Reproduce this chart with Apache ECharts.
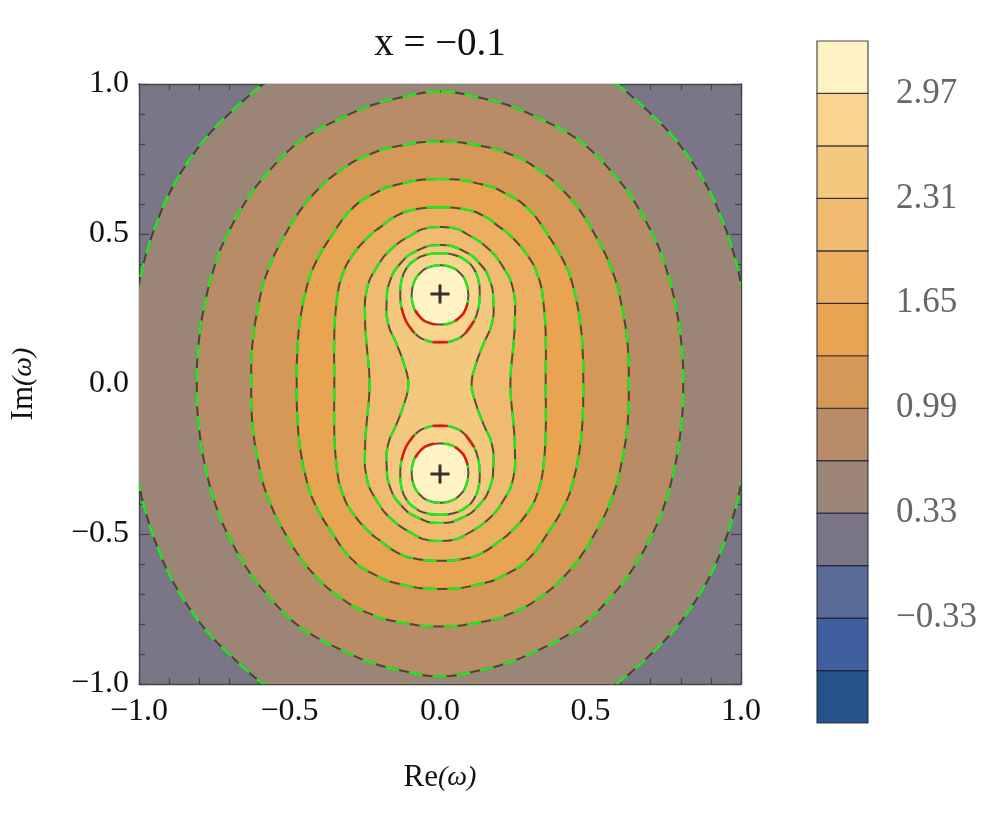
<!DOCTYPE html>
<html>
<head>
<meta charset="utf-8">
<title>x = −0.1</title>
<script src="https://cdn.jsdelivr.net/npm/echarts@6/dist/echarts.min.js"></script>
<style>
html, body { margin: 0; padding: 0; background: #fff; }
#chart { width: 997px; height: 816px; }
</style>
</head>
<body>
<div id="chart"></div>
<script>
// contour levels and colour bands (bottom to top)
const bandEdges = [-0.99, -0.66, -0.33, 0, 0.33, 0.66, 0.99, 1.32, 1.65, 1.98, 2.31, 2.64, 2.97, 3.30];
const bandColors = ['#24528a', '#3f5f9f', '#5b6b98', '#7a7688', '#9a8577', '#b78c66', '#d69856',
  '#e8a450', '#ecaf62', '#f0bb70', '#f5c87f', '#f9d48e', '#fff2c4'];
const barTicks = [-0.33, 0.33, 0.99, 1.65, 2.31, 2.97];
const axisTicks = [-1, -0.5, 0, 0.5, 1];

// contour traces, upper-left quarter, from the top (x = 0) round to y = 0
const c033 = [[0, 1.2], [-0.3, 1.12], [-0.5, 1.045], [-0.585, 1.0], [-0.635, 0.961], [-0.701, 0.9],
  [-0.767, 0.833], [-0.823, 0.761], [-0.867, 0.694], [-0.906, 0.622], [-0.934, 0.556], [-0.953, 0.506],
  [-0.973, 0.444], [-0.992, 0.372], [-1.015, 0.25], [-1.03, 0.1], [-1.033, 0]];
const c066 = [[0, 0.975], [-0.13, 0.955], [-0.225, 0.93], [-0.32, 0.89], [-0.41, 0.845], [-0.49, 0.79],
  [-0.585, 0.69], [-0.638, 0.62], [-0.703, 0.506], [-0.75, 0.389], [-0.782, 0.267], [-0.801, 0.144], [-0.808, 0]];
const c099 = [[0, 0.808], [-0.133, 0.794], [-0.244, 0.761], [-0.332, 0.711], [-0.41, 0.644], [-0.465, 0.578],
  [-0.505, 0.515], [-0.568, 0.389], [-0.607, 0.244], [-0.624, 0.122], [-0.627, 0]];
const c132 = [[0, 0.683], [-0.133, 0.667], [-0.222, 0.633], [-0.299, 0.578], [-0.356, 0.5], [-0.41, 0.411],
  [-0.443, 0.322], [-0.465, 0.211], [-0.474, 0.111], [-0.476, 0]];
const c165 = [[0, 0.589], [-0.077, 0.583], [-0.144, 0.561], [-0.199, 0.522], [-0.228, 0.5], [-0.288, 0.433],
  [-0.327, 0.356], [-0.343, 0.278], [-0.351, 0.167], [-0.351, 0]];
const c198 = [[0, 0.523], [-0.055, 0.517], [-0.089, 0.5], [-0.155, 0.456], [-0.21, 0.389], [-0.244, 0.311],
  [-0.249, 0.222], [-0.244, 0.133], [-0.236, 0.05], [-0.234, 0]];
const c231 = [[0, 0.463], [-0.077, 0.444], [-0.133, 0.4], [-0.166, 0.344], [-0.177, 0.278], [-0.172, 0.2],
  [-0.144, 0.133], [-0.116, 0.056], [-0.105, 0]];

// rings round the upper pole, left half, top to bottom (lower pole is the mirror)
const p264 = [[0, 0.436], [-0.045, 0.431], [-0.085, 0.412], [-0.113, 0.383], [-0.128, 0.345], [-0.132, 0.3],
  [-0.128, 0.255], [-0.113, 0.21], [-0.085, 0.17], [-0.045, 0.145], [0, 0.138]];
const p297 = [[0, 0.396], [-0.035, 0.39], [-0.066, 0.37], [-0.087, 0.337], [-0.094, 0.297], [-0.088, 0.258],
  [-0.068, 0.225], [-0.037, 0.204], [0, 0.198]];
const poles = [[0, 0.3], [0, -0.3]];

// red pieces on the upper pole rings
const redArcs = [
  [[0.092, 0.27], [0.078, 0.235], [0.05, 0.21]],
  [[-0.02, 0.199], [-0.055, 0.212], [-0.082, 0.245]],
  [[-0.128, 0.255], [-0.113, 0.21], [-0.085, 0.17]],
  [[-0.025, 0.14], [0.025, 0.14]],
  [[0.085, 0.17], [0.113, 0.21]]
];

const mx = p => [-p[0], p[1]];
const my = p => [p[0], -p[1]];

function ringFromQuarter(q) {
  const left = q.concat(q.slice(0, -1).reverse().map(my));
  const right = left.slice(1, -1).reverse().map(mx);
  return left.concat(right);
}
function ringFromHalf(h) {
  return h.concat(h.slice(1, -1).reverse().map(mx));
}

const contours = [];
[[c033, 0.33], [c066, 0.66], [c099, 0.99], [c132, 1.32], [c165, 1.65], [c198, 1.98], [c231, 2.31]]
  .forEach(([q, lvl]) => contours.push({ ring: ringFromQuarter(q), level: lvl }));
[[p264, 2.64], [p297, 2.97]].forEach(([h, lvl]) => {
  const up = ringFromHalf(h);
  contours.push({ ring: up, level: lvl });
  contours.push({ ring: up.map(my), level: lvl });
});
const redLines = redArcs.concat(redArcs.map(a => a.map(my)));

function fillColor(lvl) {
  const i = bandEdges.findIndex(e => Math.abs(e - lvl) < 1e-6);
  return bandColors[i];
}

const lineDark = 'rgba(66,52,42,0.85)';
const lineGreen = '#1eea1e';
const smooth = 0.5;
const serif = "'Liberation Serif', 'DejaVu Serif', serif";
const fmt1 = v => v.toFixed(1).replace('-', '\u2212');
const fmt2 = v => v.toFixed(2).replace('-', '\u2212');

const chart = echarts.init(document.getElementById('chart'));

const frameAxis = {
  min: -1, max: 1, interval: 0.5,
  axisLine: { show: true, onZero: false, lineStyle: { color: '#444', width: 1.4 } },
  axisTick: { show: true, inside: true, length: 10, lineStyle: { color: '#444', width: 1.2 } },
  minorTick: { show: true, splitNumber: 5, length: 6, lineStyle: { color: '#444', width: 1.2 } },
  splitLine: { show: false },
  minorSplitLine: { show: false }
};
const nameRich = {
  a: { fontFamily: serif, fontSize: 31, color: '#111' },
  b: { fontFamily: serif, fontSize: 28, color: '#111', fontStyle: 'italic' }
};

chart.setOption({
  animation: false,
  graphic: [{
    type: 'text', x: 440, y: 25, silent: true,
    style: { text: 'x = \u22120.1', font: '39px ' + serif, fill: '#111', textAlign: 'center' }
  }],
  grid: [
    { left: 139, top: 84, width: 602, height: 600, show: true, backgroundColor: bandColors[3], borderWidth: 0, outerBoundsMode: 'none' },
    { left: 817, top: 41, width: 51, height: 682, outerBoundsMode: 'none' }
  ],
  xAxis: [
    Object.assign({}, frameAxis, {
      type: 'value', gridIndex: 0, position: 'bottom',
      axisLabel: { formatter: v => axisTicks.includes(v) ? fmt1(v) : '', fontFamily: serif, fontSize: 32, color: '#111', margin: 12 },
      name: '{a|Re}{b|(\u03c9)}', nameLocation: 'middle', nameGap: 78, nameTextStyle: { rich: nameRich }
    }),
    Object.assign({}, frameAxis, { type: 'value', gridIndex: 0, position: 'top', axisLabel: { show: false } }),
    { type: 'value', gridIndex: 1, min: 0, max: 1, show: false }
  ],
  yAxis: [
    Object.assign({}, frameAxis, {
      type: 'value', gridIndex: 0, position: 'left',
      axisLabel: { formatter: v => axisTicks.includes(v) ? fmt1(v) : '', fontFamily: serif, fontSize: 32, color: '#111', margin: 10 },
      name: '{a|Im}{b|(\u03c9)}', nameLocation: 'middle', nameGap: 100, nameRotate: 90, nameTextStyle: { rich: nameRich }
    }),
    Object.assign({}, frameAxis, { type: 'value', gridIndex: 0, position: 'right', axisLabel: { show: false } }),
    {
      type: 'value', gridIndex: 1, min: bandEdges[0], max: bandEdges[bandEdges.length - 1], position: 'right',
      axisLine: { show: false }, splitLine: { show: false },
      axisTick: { show: true, customValues: barTicks, length: 17, lineStyle: { color: '#8a8a8a', width: 1.2 } },
      axisLabel: { customValues: barTicks, formatter: fmt2, fontFamily: serif, fontSize: 35, color: '#666', margin: 28 }
    }
  ],
  series: [
    {
      type: 'custom', name: 'fill', xAxisIndex: 0, yAxisIndex: 0, clip: true, silent: true,
      data: contours.map((c, i) => [0, 0, i]),
      encode: { x: 0, y: 1 },
      renderItem: (params, api) => {
        const c = contours[api.value(2)];
        return { type: 'polygon', shape: { points: c.ring.map(p => api.coord(p)), smooth }, style: { fill: fillColor(c.level) } };
      }
    },
    {
      type: 'custom', name: 'lines', xAxisIndex: 0, yAxisIndex: 0, clip: true, silent: true,
      data: contours.map((c, i) => [0, 0, i]),
      encode: { x: 0, y: 1 },
      renderItem: (params, api) => {
        const c = contours[api.value(2)];
        const pts = c.ring.map(p => api.coord(p));
        return {
          type: 'group', children: [
            { type: 'polygon', shape: { points: pts, smooth }, style: { fill: null, stroke: lineDark, lineWidth: 2 } },
            { type: 'polygon', shape: { points: pts, smooth }, style: { fill: null, stroke: lineGreen, lineWidth: 2.4, lineDash: [14, 10] } }
          ]
        };
      }
    },
    {
      type: 'custom', name: 'red', xAxisIndex: 0, yAxisIndex: 0, clip: true, silent: true,
      data: redLines.map((r, i) => [0, 0, i]),
      encode: { x: 0, y: 1 },
      renderItem: (params, api) => ({
        type: 'polyline',
        shape: { points: redLines[api.value(2)].map(p => api.coord(p)), smooth: 0.3 },
        style: { fill: null, stroke: '#f01010', lineWidth: 2.4 }
      })
    },
    {
      type: 'scatter', name: 'poles', xAxisIndex: 0, yAxisIndex: 0, silent: true,
      symbol: 'path://M0,7.6H7.6V0H10.4V7.6H18V10.4H10.4V18H7.6V10.4H0Z', symbolSize: 19,
      itemStyle: { color: '#000' }, data: poles
    },
    {
      type: 'custom', name: 'colorbar', xAxisIndex: 2, yAxisIndex: 2, silent: true,
      data: bandColors.map((c, i) => [bandEdges[i], bandEdges[i + 1], i]),
      encode: { y: [0, 1] },
      renderItem: (params, api) => {
        const a = api.coord([0, api.value(0)]);
        const b = api.coord([1, api.value(1)]);
        return {
          type: 'rect',
          shape: { x: a[0], y: b[1], width: b[0] - a[0], height: a[1] - b[1] },
          style: { fill: bandColors[api.value(2)], stroke: 'rgba(30,32,45,0.8)', lineWidth: 1.2 }
        };
      }
    }
  ]
});
</script>
</body>
</html>
